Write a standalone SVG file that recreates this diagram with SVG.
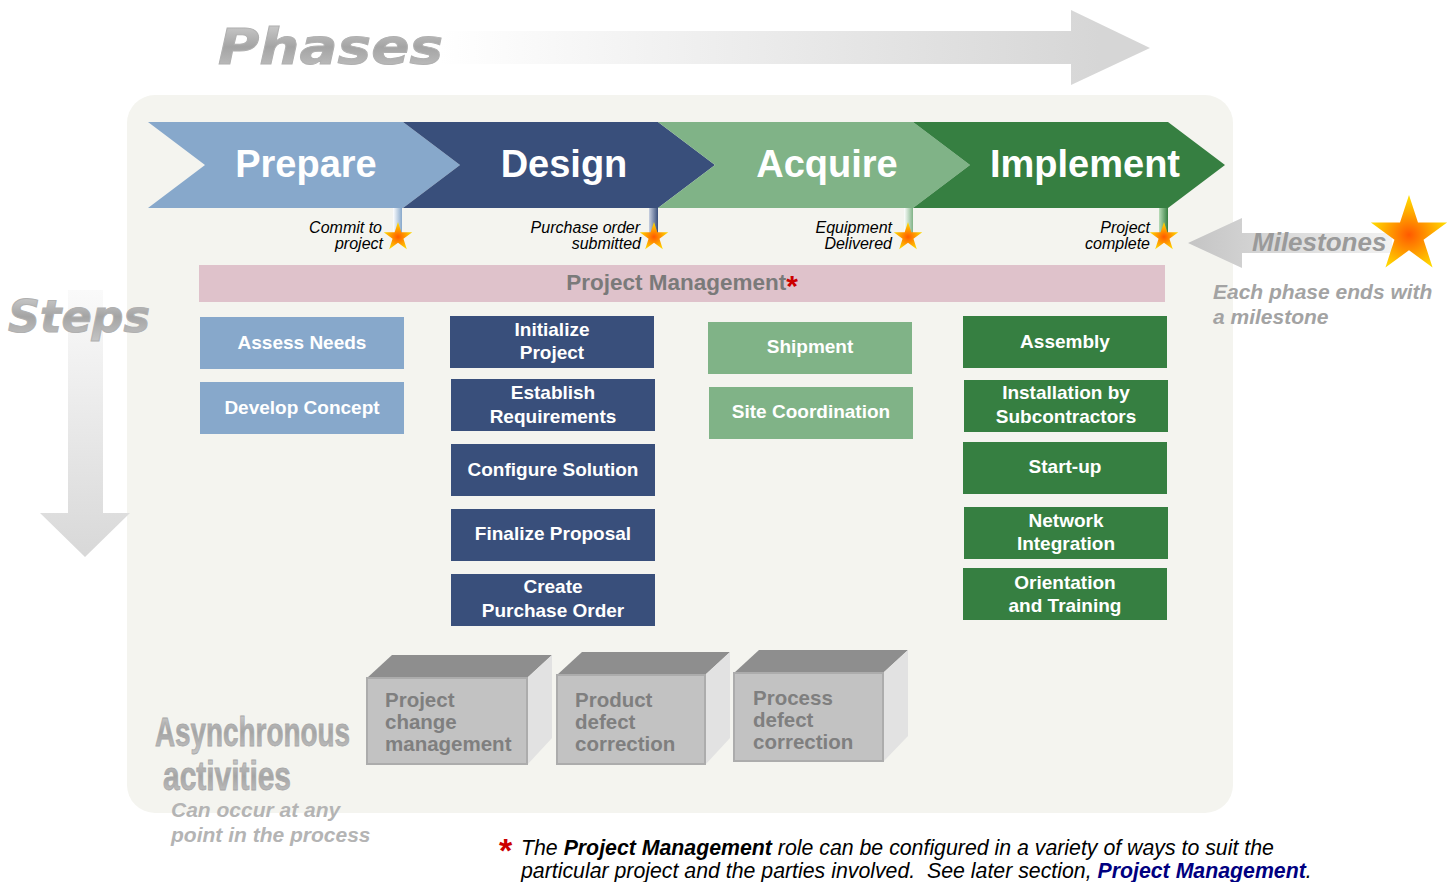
<svg xmlns="http://www.w3.org/2000/svg" width="1455" height="882" viewBox="0 0 1455 882">
<defs>
<style>
.ph{font-family:"Liberation Sans",Arial,sans-serif;font-weight:bold;font-size:38px;fill:#fff;text-anchor:middle}
.bx{font-family:"Liberation Sans",Arial,sans-serif;font-weight:bold;font-size:19px;fill:#fff;text-anchor:middle}
.ms{font-family:"Liberation Sans",Arial,sans-serif;font-style:italic;font-size:16px;fill:#000;text-anchor:end}
.ab{font-family:"Liberation Sans",Arial,sans-serif;font-weight:bold;font-size:20.5px;fill:#7f7f7f}
.note{font-family:"Liberation Sans",Arial,sans-serif;font-style:italic;font-size:21.3px;fill:#000}
.gi{font-family:"Liberation Sans",Arial,sans-serif;font-style:italic;font-weight:bold}
.big{font-family:"DejaVu Sans","Liberation Sans",sans-serif;font-weight:bold;font-style:italic}
.prep{fill:#87a8cb}.des{fill:#394f7b}.acq{fill:#80b387}.imp{fill:#367f41}
.top{fill:#8e8e8e}.front{fill:#c2c2c2;stroke:#acacac;stroke-width:2}.side{fill:#e2e2e2}
</style>
<linearGradient id="gPh" x1="440" y1="0" x2="1100" y2="0" gradientUnits="userSpaceOnUse">
<stop offset="0" stop-color="#ffffff"/><stop offset="1" stop-color="#d6d6d6"/></linearGradient>
<linearGradient id="gSt" x1="0" y1="290" x2="0" y2="557" gradientUnits="userSpaceOnUse">
<stop offset="0" stop-color="#fafafa"/><stop offset="1" stop-color="#d8d8d8"/></linearGradient>
<linearGradient id="gMs" x1="1188" y1="0" x2="1400" y2="0" gradientUnits="userSpaceOnUse">
<stop offset="0" stop-color="#c4c4c4"/><stop offset="1" stop-color="#f4f4f4"/></linearGradient>
<linearGradient id="gTxt" x1="0" y1="0" x2="0" y2="1">
<stop offset="0" stop-color="#d4d4d4"/><stop offset="0.5" stop-color="#a4a4a4"/><stop offset="1" stop-color="#c6c6c6"/></linearGradient>
<radialGradient id="gStar" cx="0.5" cy="0.55" r="0.5">
<stop offset="0" stop-color="#ff5a00"/><stop offset="0.55" stop-color="#ffa000"/><stop offset="1" stop-color="#ffd800"/></radialGradient>
<linearGradient id="pin1" x1="0" y1="0" x2="1" y2="0"><stop offset="0" stop-color="#ffffff"/><stop offset="1" stop-color="#87a8cb"/></linearGradient>
<linearGradient id="pin2" x1="0" y1="0" x2="1" y2="0"><stop offset="0" stop-color="#c8d0e0"/><stop offset="1" stop-color="#394f7b"/></linearGradient>
<linearGradient id="pin3" x1="0" y1="0" x2="1" y2="0"><stop offset="0" stop-color="#ffffff"/><stop offset="1" stop-color="#80b387"/></linearGradient>
<linearGradient id="pin4" x1="0" y1="0" x2="1" y2="0"><stop offset="0" stop-color="#b8dcb8"/><stop offset="1" stop-color="#367f41"/></linearGradient>
<polygon id="star" points="0,-15 3.37,-4.64 14.27,-4.64 5.45,1.77 8.82,12.14 0,5.73 -8.82,12.14 -5.45,1.77 -14.27,-4.64 -3.37,-4.64" fill="url(#gStar)"/>
</defs>
<rect width="1455" height="882" fill="#ffffff"/>

<!-- Phases arrow -->
<g id="phases">
<polygon points="440,31 1071,31 1071,10 1150,48 1071,85 1071,64 440,64" fill="url(#gPh)"/>
<text class="big" x="218" y="64" font-size="50" fill="url(#gTxt)" stroke="#b0b0b0" stroke-width="1" textLength="225" lengthAdjust="spacingAndGlyphs">Phases</text>
</g>

<!-- background panel -->
<rect id="panel" x="127" y="95" width="1106" height="718" rx="28" fill="#f4f4ef"/>

<!-- Steps arrow -->
<g id="steps">
<polygon points="68,290 103,290 103,513 130,513 85,557 40,513 68,513" fill="url(#gSt)"/>
<text class="big" x="8" y="332" font-size="44" fill="url(#gTxt)" stroke="#b0b0b0" stroke-width="1" textLength="142" lengthAdjust="spacingAndGlyphs">Steps</text>
</g>

<!-- Milestones arrow -->
<g id="milestones">
<polygon points="1188,243 1242,218 1242,233 1392,233 1392,253 1242,253 1242,268" fill="url(#gMs)"/>
<text class="gi" x="1252" y="251" font-size="26" fill="#9a9a9a">Milestones</text>
<use href="#star" transform="translate(1409,235) scale(2.67)"/>
<text class="gi" x="1213" y="299" font-size="21" fill="#a3a3a3">Each phase ends with</text>
<text class="gi" x="1213" y="324" font-size="21" fill="#a3a3a3">a milestone</text>
</g>

<!-- Phase chevrons -->
<g id="phase-prepare"><polygon class="prep" points="148,122 403,122 460,165 403,208 148,208 205,165"/><text class="ph" x="306" y="177">Prepare</text></g>
<g id="phase-design"><polygon class="des" points="403,122 658,122 715,165 658,208 403,208 460,165"/><text class="ph" x="564" y="177">Design</text></g>
<g id="phase-acquire"><polygon class="acq" points="658,122 913,122 970,165 913,208 658,208 715,165"/><text class="ph" x="827" y="177">Acquire</text></g>
<g id="phase-implement"><polygon class="imp" points="913,122 1168,122 1225,165 1168,208 913,208 970,165"/><text class="ph" x="1085" y="177">Implement</text></g>

<!-- Milestones pins -->
<g id="milestone-1"><rect x="393" y="208" width="9" height="26" fill="url(#pin1)"/><use href="#star" transform="translate(398,237)"/><text class="ms" x="382" y="233">Commit to</text><text class="ms" x="383" y="249">project</text></g>
<g id="milestone-2"><rect x="649" y="208" width="9" height="26" fill="url(#pin2)"/><use href="#star" transform="translate(654,237)"/><text class="ms" x="640" y="233">Purchase order</text><text class="ms" x="641" y="249">submitted</text></g>
<g id="milestone-3"><rect x="904" y="208" width="9" height="26" fill="url(#pin3)"/><use href="#star" transform="translate(908,237)"/><text class="ms" x="892" y="233">Equipment</text><text class="ms" x="892" y="249">Delivered</text></g>
<g id="milestone-4"><rect x="1159" y="208" width="9" height="26" fill="url(#pin4)"/><use href="#star" transform="translate(1164,237)"/><text class="ms" x="1150" y="233">Project</text><text class="ms" x="1150" y="249">complete</text></g>

<!-- Project management bar -->
<g id="project-management">
<rect x="199" y="265" width="966" height="37" fill="#dfc2cb"/>
<text x="682" y="290" font-family="Liberation Sans, Arial, sans-serif" font-weight="bold" font-size="22.5" fill="#7a7a7a" text-anchor="middle">Project Management<tspan fill="#cc0000" font-size="30" dy="6">*</tspan></text>
</g>

<!-- Prepare steps -->
<g id="assess-needs"><rect class="prep" x="200" y="317" width="204" height="52"/><text class="bx" x="302" y="349">Assess Needs</text></g>
<g id="develop-concept"><rect class="prep" x="200" y="382" width="204" height="52"/><text class="bx" x="302" y="414">Develop Concept</text></g>

<!-- Design steps -->
<g id="initialize-project"><rect class="des" x="450" y="316" width="204" height="52"/><text class="bx" x="552" y="336">Initialize</text><text class="bx" x="552" y="359">Project</text></g>
<g id="establish-requirements"><rect class="des" x="451" y="379" width="204" height="52"/><text class="bx" x="553" y="399">Establish</text><text class="bx" x="553" y="423">Requirements</text></g>
<g id="configure-solution"><rect class="des" x="451" y="444" width="204" height="52"/><text class="bx" x="553" y="476">Configure Solution</text></g>
<g id="finalize-proposal"><rect class="des" x="451" y="509" width="204" height="52"/><text class="bx" x="553" y="540">Finalize Proposal</text></g>
<g id="create-purchase-order"><rect class="des" x="451" y="574" width="204" height="52"/><text class="bx" x="553" y="593">Create</text><text class="bx" x="553" y="617">Purchase Order</text></g>

<!-- Acquire steps -->
<g id="shipment"><rect class="acq" x="708" y="322" width="204" height="52"/><text class="bx" x="810" y="353">Shipment</text></g>
<g id="site-coordination"><rect class="acq" x="709" y="387" width="204" height="52"/><text class="bx" x="811" y="418">Site Coordination</text></g>

<!-- Implement steps -->
<g id="assembly"><rect class="imp" x="963" y="316" width="204" height="52"/><text class="bx" x="1065" y="348">Assembly</text></g>
<g id="installation"><rect class="imp" x="964" y="380" width="204" height="52"/><text class="bx" x="1066" y="399">Installation by</text><text class="bx" x="1066" y="423">Subcontractors</text></g>
<g id="start-up"><rect class="imp" x="963" y="442" width="204" height="52"/><text class="bx" x="1065" y="473">Start-up</text></g>
<g id="network-integration"><rect class="imp" x="964" y="507" width="204" height="52"/><text class="bx" x="1066" y="527">Network</text><text class="bx" x="1066" y="550">Integration</text></g>
<g id="orientation-training"><rect class="imp" x="963" y="568" width="204" height="52"/><text class="bx" x="1065" y="589">Orientation</text><text class="bx" x="1065" y="612">and Training</text></g>

<!-- Asynchronous activities -->
<g id="async-label">
<text x="155" y="746" font-family="Liberation Sans, Arial, sans-serif" font-weight="bold" font-size="40" fill="url(#gTxt)" stroke="#a8a8a8" stroke-width="0.8" textLength="195" lengthAdjust="spacingAndGlyphs">Asynchronous</text>
<text x="163" y="790" font-family="Liberation Sans, Arial, sans-serif" font-weight="bold" font-size="40" fill="url(#gTxt)" stroke="#a8a8a8" stroke-width="0.8" textLength="128" lengthAdjust="spacingAndGlyphs">activities</text>
<text class="gi" x="171" y="817" font-size="21" fill="#b4b4b4">Can occur at any</text>
<text class="gi" x="171" y="842" font-size="21" fill="#b4b4b4">point in the process</text>
</g>
<g id="box-project-change">
<polygon class="top" points="367,678 392,655 552,655 527,678"/>
<polygon class="side" points="527,678 552,655 552,738 527,765"/>
<rect class="front" x="367" y="678" width="160" height="86"/>
<text class="ab" x="385" y="707">Project</text><text class="ab" x="385" y="729">change</text><text class="ab" x="385" y="751">management</text>
</g>
<g id="box-product-defect">
<polygon class="top" points="557,675 582,652 730,652 705,675"/>
<polygon class="side" points="705,675 730,652 730,738 705,765"/>
<rect class="front" x="557" y="675" width="148" height="89"/>
<text class="ab" x="575" y="707">Product</text><text class="ab" x="575" y="729">defect</text><text class="ab" x="575" y="751">correction</text>
</g>
<g id="box-process-defect">
<polygon class="top" points="734,673 759,650 908,650 883,673"/>
<polygon class="side" points="883,673 908,650 908,736 883,762"/>
<rect class="front" x="734" y="673" width="149" height="88"/>
<text class="ab" x="753" y="705">Process</text><text class="ab" x="753" y="727">defect</text><text class="ab" x="753" y="749">correction</text>
</g>

<!-- footnote -->
<g id="footnote">
<text x="499" y="862" font-family="Liberation Sans, Arial, sans-serif" font-weight="bold" font-size="34" fill="#cc0000">*</text>
<text class="note" x="521" y="855">The <tspan font-weight="bold">Project Management</tspan> role can be configured in a variety of ways to suit the</text>
<text class="note" x="521" y="878" xml:space="preserve">particular project and the parties involved.  See later section, <tspan font-weight="bold" fill="#000080">Project Management</tspan>.</text>
</g>
<g id="connectors"/>
</svg>
